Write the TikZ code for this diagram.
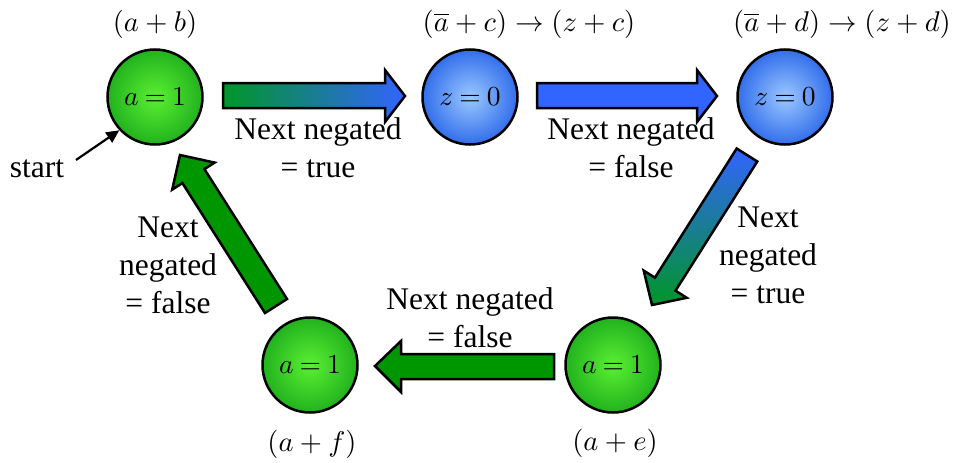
\documentclass[tikz,border=0pt]{standalone}
\usepackage[no-math]{fontspec}
\setmainfont{Liberation Serif}
\usetikzlibrary{arrows.meta}
\definecolor{gout}{RGB}{34,178,30}
\definecolor{gin}{RGB}{90,240,50}
\definecolor{bout}{RGB}{50,110,235}
\definecolor{bin}{RGB}{155,200,255}
\definecolor{arrgreen}{RGB}{0,150,0}
\definecolor{arrgreen2}{RGB}{0,150,40}
\definecolor{arrblue}{RGB}{50,100,255}
\newcommand{\stm}[1]{\scalebox{2.75}{$\thickmuskip=4mu #1$}}
\newcommand{\clm}[1]{\scalebox{2.85}{$#1$}}
\begin{document}
\begin{tikzpicture}[x=1pt,y=-1pt,
  gstate/.style={circle, draw=black, line width=2.5pt, minimum size=95pt, inner sep=0pt,
    inner color=gin, outer color=gout},
  bstate/.style={gstate, inner color=bin, outer color=bout},
  blockarr/.style={draw=black, line width=2.5pt, line join=miter},
  lbl/.style={align=center, font=\fontsize{31.5}{38}\selectfont, inner sep=0pt},
  mlbl/.style={inner sep=0pt}]
\useasboundingbox (0,0) rectangle (956,463);
% states
\node[gstate] (n1) at (155,97) {\stm{a=1}};
\node[bstate] (n2) at (470,97) {\stm{z=0}};
\node[bstate] (n3) at (785,97) {\stm{z=0}};
\node[gstate] (n4) at (613,365) {\stm{a=1}};
\node[gstate] (n5) at (310,365) {\stm{a=1}};
% clause labels
\node[mlbl] (c1) at (155,24) {\clm{(a+b)}};
\node[mlbl] (c2) at (529,24) {\clm{(\overline{a}+c)\rightarrow(z+c)}};
\node[mlbl] (c3) at (842,24) {\clm{(\overline{a}+d)\rightarrow(z+d)}};
\node[mlbl] (c4) at (615,443) {\clm{(a+e)}};
\node[mlbl] (c5) at (312,444) {\clm{(a+f)}};
% block arrows
\draw[blockarr, left color=arrgreen2, right color=arrblue]
  (223,83) -- (385,83) -- (385,70) -- (405,96) -- (385,122) -- (385,108) -- (223,108) -- cycle;
\draw[blockarr, fill=arrblue]
  (537,83) -- (697,83) -- (697,70) -- (717,96) -- (697,122) -- (697,108) -- (537,108) -- cycle;
\draw[blockarr, top color=arrblue, bottom color=arrgreen2]
  (736.7,148.5) -- (654.9,277.7) -- (643.7,270.6) -- (652,305) -- (686.7,297.8) -- (675.5,290.7) -- (757.3,161.5) -- cycle;
\draw[blockarr, fill=arrgreen]
  (554,354) -- (401,354) -- (401,341) -- (375,366) -- (401,392) -- (401,379) -- (554,379) -- cycle;
\draw[blockarr, fill=arrgreen]
  (265,313) -- (182.4,183.1) -- (172.2,189.6) -- (180,155) -- (214.6,162.6) -- (204.4,169.1) -- (287,299) -- cycle;
% transition labels
\node[lbl] (t1) at (318,148) {Next negated\\= true};
\node[lbl] (t2) at (631,148) {Next negated\\= false};
\node[lbl] (t3) at (768,255) {Next\\negated\\= true};
\node[lbl] (t4) at (470,318) {Next negated\\= false};
\node[lbl] (t5) at (168,265) {Next\\negated\\= false};
% start
\node[lbl] (start) at (37,169) {start};
\coordinate (s0) at (76,160);
\draw[line width=2.2pt, -{Triangle[length=13pt,width=12pt]}] (s0) -- (n1.223);
\end{tikzpicture}
\end{document}
